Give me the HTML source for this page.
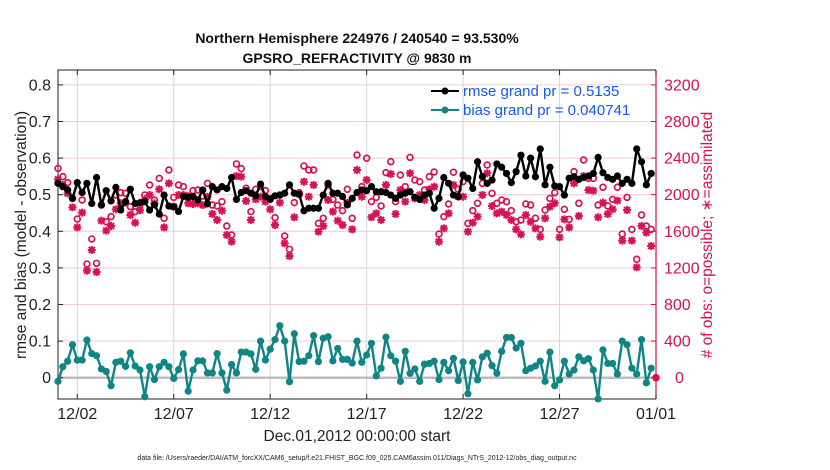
<!DOCTYPE html>
<html><head><meta charset="utf-8"><style>
html,body{margin:0;padding:0;background:#fff;}
svg{display:block;font-family:"Liberation Sans",sans-serif;}
</style></head><body>
<svg id="chart" width="830" height="470" viewBox="0 0 830 470">
<text x="357" y="43" text-anchor="middle" font-size="14" font-weight="bold" fill="#111">Northern Hemisphere 224976 / 240540 = 93.530%</text>
<text x="357" y="63" text-anchor="middle" font-size="14" font-weight="bold" fill="#111">GPSRO_REFRACTIVITY @ 9830 m</text>
<g id="grid"></g>
<g id="axes"></g>
<g id="series"></g>
<g id="legend">
 <line x1="431" y1="91" x2="459" y2="91" stroke="#000" stroke-width="2"/>
 <circle cx="445" cy="91" r="3.5" fill="#000"/>
 <text x="463" y="96" font-size="15" fill="#1657f5">rmse grand pr = 0.5135</text>
 <line x1="431" y1="110" x2="459" y2="110" stroke="#108585" stroke-width="2"/>
 <circle cx="445" cy="110" r="3.5" fill="#108585"/>
 <text x="463" y="115" font-size="15" fill="#1657f5">bias grand pr = 0.040741</text>
</g>
<text transform="translate(26,235) rotate(-90)" text-anchor="middle" font-size="15.5" fill="#222">rmse and bias (model - observation)</text>
<text transform="translate(712,235) rotate(-90)" text-anchor="middle" font-size="15.5" fill="#d6124f"># of obs: o=possible; ∗=assimilated</text>
<text x="357" y="441" text-anchor="middle" font-size="15.5" fill="#222">Dec.01,2012 00:00:00 start</text>
<text x="357" y="460" text-anchor="middle" font-size="7" fill="#222">data file: /Users/raeder/DAI/ATM_forcXX/CAM6_setup/f.e21.FHIST_BGC.f09_025.CAM6assim.011/Diags_NTrS_2012-12/obs_diag_output.nc</text>
</svg>
<script>
const rmse=[0.531,0.522,0.513,0.49,0.533,0.506,0.531,0.476,0.547,0.472,0.511,0.483,0.52,0.458,0.481,0.515,0.476,0.478,0.481,0.458,0.472,0.447,0.499,0.469,0.467,0.454,0.495,0.493,0.495,0.486,0.513,0.475,
0.522,0.513,0.522,0.517,0.547,0.487,0.506,0.511,0.504,0.497,0.529,0.495,0.487,0.497,0.499,0.504,0.527,0.504,0.501,0.456,0.463,0.463,0.463,0.499,0.531,0.504,0.504,0.495,0.472,0.49,0.506,
0.513,0.511,0.522,0.508,0.508,0.506,0.499,0.49,0.499,0.504,0.508,0.493,0.487,0.499,0.504,0.463,0.49,0.547,0.531,0.499,0.495,0.554,0.545,0.517,0.59,0.549,0.531,0.54,0.584,0.575,0.558,
0.533,0.563,0.608,0.551,0.6,0.549,0.625,0.527,0.575,0.524,0.522,0.499,0.545,0.549,0.542,0.547,0.551,0.558,0.602,0.56,0.547,0.542,0.551,0.531,0.542,0.531,0.625,0.59,0.527,0.558];
const bias=[-0.01,0.03,0.045,0.09,0.048,0.048,0.103,0.066,0.06,0.024,0.017,-0.022,0.042,0.045,0.031,0.068,0.032,0.021,-0.052,0.03,-0.005,0.03,0.042,0.03,-0.002,0.022,0.065,-0.037,0.021,0.046,0.046,0.013,
0.013,0.066,0.013,-0.034,0.036,0.013,0.07,0.07,0.065,0.023,0.1,0.048,0.078,0.104,0.142,0.1,-0.011,0.12,0.044,0.045,0.06,0.115,0.044,0.108,0.112,0.046,0.08,0.05,0.05,0.04,0.1,
0.042,0.062,0.094,0.005,0.026,0.111,0.06,0.045,-0.01,0.072,0.012,0.024,-0.01,0.037,0.039,0.045,-0.005,0.042,0.019,0.053,-0.008,0.043,-0.044,0.042,-0.006,0.057,0.067,0.033,0.012,0.072,0.11,
0.11,0.081,0.094,0.019,0.026,0.032,0.045,-0.01,0.07,-0.022,-0.006,0.045,0.01,0.021,0.057,0.046,0.052,0.021,-0.058,0.076,0.039,0.039,0.01,0.1,0.09,0.026,0.01,0.104,-0.014,0.026];
const possible=[2288,2197,2132,1960,1734,1942,1243,1516,1250,1887,1705,1760,1997,2022,2015,1869,1815,1887,1997,2106,1942,2179,1742,2270,1971,2106,2088,1986,2044,2051,1986,2124,
1887,1877,1924,1658,1560,2336,2285,2070,1815,2059,2088,2044,1960,1749,1997,1549,1403,1913,2022,2314,2270,2270,1687,1742,2106,1949,1887,1826,2059,1742,2434,
2088,2398,1924,1971,1877,2241,2361,1924,2215,2088,2408,2161,2143,2051,2197,2248,1570,1760,1898,2245,2059,2143,1687,1826,1906,2124,2325,2015,1906,1942,1924,
1826,1705,1723,1898,1887,1742,1621,1833,1960,2022,1621,1840,1731,2252,1906,2379,2179,2179,1887,2081,1877,1949,2081,1570,1971,1621,1294,1778,1658,1621];
const assimilated=[2168,2106,2015,1862,1643,1804,1170,1396,1155,1716,1607,1658,1840,1906,1913,1778,1694,1830,1950,1997,1906,2059,1643,2124,1869,1997,1997,1906,1898,1906,1887,1978,
1789,1724,1825,1560,1487,2204,2197,1931,1724,1949,1978,1924,1840,1669,1913,1468,1330,1753,2008,2142,1978,2106,1596,1658,1942,1815,1716,1669,1913,1621,2270,
1978,2161,1753,1796,1724,2106,2226,1789,2051,1924,2234,1960,1997,1942,2059,2088,1487,1632,1796,2106,1978,1978,1596,1694,1760,1997,2234,1876,1796,1815,1778,
1724,1621,1567,1778,1705,1632,1541,1742,1869,1906,1534,1731,1643,2124,1767,2204,2051,2044,1753,1913,1789,1840,1935,1498,1833,1498,1206,1658,1585,1439];
const leftTicks=[0,0.1,0.2,0.3,0.4,0.5,0.6,0.7,0.8];
const rightTicks=[0,400,800,1200,1600,2000,2400,2800,3200];
const xTickDays=[1,6,11,16,21,26,31];
const xTickLabels=["12/02","12/07","12/12","12/17","12/22","12/27","01/01"];

const NS="http://www.w3.org/2000/svg";
const X0=58,X1=656,Y0=70,Y1=399;
const xs=d=>X0+(d/31)*(X1-X0);
const yL=v=>377.7-v*366;
const yR=c=>yL(c/4000);
function mk(tag,attrs,parent){const e=document.createElementNS(NS,tag);for(const k in attrs)e.setAttribute(k,attrs[k]);parent.appendChild(e);return e;}
const grid=document.getElementById('grid'),axes=document.getElementById('axes'),ser=document.getElementById('series');
leftTicks.forEach(v=>{if(v===0)return;const l=mk('line',{x1:X0,x2:X1,y1:yL(v),y2:yL(v),stroke:'#f4c9d8','stroke-width':1},grid);

});
xTickDays.forEach(d=>{if(d===31)return;const l=mk('line',{x1:xs(d),x2:xs(d),y1:Y0,y2:Y1,stroke:'#d4d4d4','stroke-width':1},grid);

});
const z=mk('line',{x1:X0,x2:X1,y1:yL(0),y2:yL(0),stroke:'#bdbdbd','stroke-width':2.5},grid);


const ax=mk('path',{d:`M${X1},${Y0}H${X0}V${Y1}H${X1}`,fill:'none',stroke:'#222','stroke-width':1},axes);


const ra=mk('line',{x1:X1,x2:X1,y1:Y0,y2:Y1,stroke:'#d6124f','stroke-width':1.2},axes);


leftTicks.forEach(v=>{const y=yL(v);mk('line',{x1:X0,x2:X0+5,y1:y,y2:y,stroke:'#222'},axes);
const t=mk('text',{x:X0-7,y:y+5.5,'text-anchor':'end','font-size':16,fill:'#222'},axes);t.textContent=v===0?'0':v.toFixed(1);

});
rightTicks.forEach(c=>{const y=yR(c);mk('line',{x1:X1-5,x2:X1,y1:y,y2:y,stroke:'#d6124f'},axes);
const t=mk('text',{x:X1+8,y:y+5.5,'font-size':16,fill:'#d6124f'},axes);t.textContent=c;
if(c===0)t.setAttribute('x',X1+19);

});
xTickDays.forEach((d,i)=>{const x=xs(d);mk('line',{x1:x,x2:x,y1:Y1,y2:Y1-5,stroke:'#222'},axes);mk('line',{x1:x,x2:x,y1:Y0,y2:Y0+5,stroke:'#222'},axes);
const t=mk('text',{x:x,y:Y1+20,'text-anchor':'middle','font-size':16,fill:'#222'},axes);t.textContent=xTickLabels[i];

});
const red='#d6124f';
possible.forEach((c,i)=>{const x=xs(i*0.25);
const a=assimilated[i],ya=yR(a);
const s=mk('path',{d:`M${x-4},${ya}h8M${x},${ya-4}v8M${x-3},${ya-3}l6,6M${x-3},${ya+3}l6,-6`,stroke:red,'stroke-width':2,fill:'none'},ser);


const o=mk('circle',{cx:x,cy:yR(c),r:2.9,fill:'none',stroke:red,'stroke-width':1.7},ser);

});
const endDot=mk('circle',{cx:X1,cy:yR(0),r:3.8,fill:red},ser);


function line(arr,color,name){const pts=arr.map((v,i)=>`${xs(i*0.25).toFixed(1)},${yL(v).toFixed(1)}`).join(' ');
const p=mk('polyline',{points:pts,fill:'none',stroke:color,'stroke-width':2.4,'stroke-linejoin':'round'},ser);


arr.forEach((v,i)=>{const c=mk('circle',{cx:xs(i*0.25),cy:yL(v),r:3.6,fill:color},ser);

});}
line(rmse,'#000','rmse');
line(bias,'#108585','bias');
document.getElementById('chart').appendChild(document.getElementById('legend'));
</script>
</body></html>
